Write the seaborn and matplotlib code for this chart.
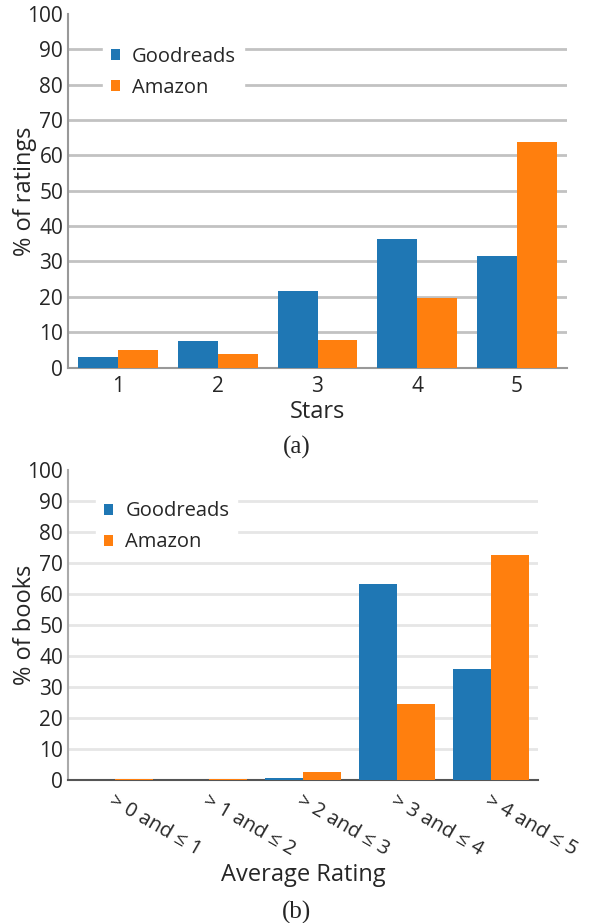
import matplotlib
matplotlib.use('Agg')
import matplotlib.pyplot as plt
import seaborn as sns
import pandas as pd

# data
stars = ['1', '2', '3', '4', '5']
stars_goodreads = [2.9, 7.5, 21.6, 36.4, 31.6]
stars_amazon = [4.9, 3.8, 7.7, 19.6, 63.7]

avg_bins = ['> 0 and ≤ 1', '> 1 and ≤ 2', '> 2 and ≤ 3', '> 3 and ≤ 4', '> 4 and ≤ 5']
avg_goodreads = [0.0, 0.0, 0.7, 63.2, 35.8]
avg_amazon = [0.3, 0.3, 2.6, 24.5, 72.6]

sources = ['Goodreads', 'Amazon']
colors = ['#1f77b4', '#ff7f0e']

sns.set_style('white')
plt.rcParams['font.family'] = ['Open Sans', 'DejaVu Sans']

TICK_FS = 15
LEG_FS = 14.5
LAB_FS = 17


def long_df(cats, gr, am):
    return pd.DataFrame({
        'cat': cats * 2,
        'val': gr + am,
        'source': [sources[0]] * len(cats) + [sources[1]] * len(cats),
    })


def style_axes(ax, grid_color, bottom_color, left_color):
    ax.set_xlim(-0.5, 4.5)
    ax.set_ylim(0, 100)
    ax.set_yticks(range(0, 101, 10))
    ax.set_axisbelow(True)
    ax.yaxis.grid(True, color=grid_color, lw=2)
    ax.yaxis.get_gridlines()[0].set_visible(False)
    ax.yaxis.get_gridlines()[-1].set_visible(False)
    for s in ['top', 'right']:
        ax.spines[s].set_visible(False)
    ax.spines['bottom'].set_color(bottom_color)
    ax.spines['bottom'].set_linewidth(1.5)
    ax.spines['left'].set_color(left_color)
    ax.spines['left'].set_linewidth(1.5)
    ax.tick_params(axis='y', labelsize=TICK_FS, length=3, width=1.2, color=left_color, pad=0.5)
    ax.tick_params(axis='x', labelsize=TICK_FS, length=4, width=1.2, color='#666666')
    # bars sit on top of the baseline, so tiny values still show
    for p in ax.patches:
        p.set_zorder(3)


def add_legend(ax, anchor):
    handles, labels = ax.get_legend_handles_labels()
    ax.legend(handles, labels, loc='upper left', bbox_to_anchor=anchor,
              borderaxespad=0, frameon=True, facecolor='white', edgecolor='white',
              framealpha=1, fontsize=LEG_FS, handlelength=0.45, handleheight=0.45,
              handletextpad=0.6, labelspacing=0.55, borderpad=0.4, fancybox=False)


fig = plt.figure(figsize=(5.93, 9.23), dpi=100)

# (a) star distribution
ax1 = fig.add_axes([68 / 593, 1 - 367.5 / 923, 499 / 593, 353.5 / 923])
sns.barplot(data=long_df(stars, stars_goodreads, stars_amazon), x='cat', y='val',
            hue='source', palette=colors, width=0.8, saturation=1, linewidth=0, ax=ax1)
style_axes(ax1, '#c2c2c2', '#999999', '#999999')
ax1.tick_params(axis='x', pad=2)
ax1.set_xlabel('Stars', fontsize=LAB_FS)
ax1.set_ylabel('% of ratings', fontsize=LAB_FS)
ax1.xaxis.set_label_coords(0.5, -0.093)
ax1.yaxis.set_label_coords(-0.062, 0.5)
add_legend(ax1, (0.07, 0.93))

# (b) average rating distribution
ax2 = fig.add_axes([68 / 593, 1 - 780 / 923, 470 / 593, 310 / 923])
sns.barplot(data=long_df(avg_bins, avg_goodreads, avg_amazon), x='cat', y='val',
            hue='source', palette=colors, width=0.8, saturation=1, linewidth=0, ax=ax2)
style_axes(ax2, '#e6e6e6', '#555555', '#aaaaaa')
ax2.tick_params(axis='x', pad=4, labelsize=14.5)
for lab in ax2.get_xticklabels():
    lab.set_rotation(-30)
    lab.set_ha('left')
    lab.set_va('top')
    lab.set_rotation_mode('anchor')
ax2.set_xlabel('Average Rating', fontsize=LAB_FS)
ax2.set_ylabel('% of books', fontsize=LAB_FS)
ax2.xaxis.set_label_coords(0.5, -0.268)
ax2.yaxis.set_label_coords(-0.066, 0.5)
add_legend(ax2, (0.06, 0.925))

fig.text(0.5, 1 - 447 / 923, '(a)', ha='center', va='center',
         family='Liberation Serif', fontsize=18)
fig.text(0.5, 1 - 912 / 923, '(b)', ha='center', va='center',
         family='Liberation Serif', fontsize=18)

fig.savefig('out.png', dpi=100)
